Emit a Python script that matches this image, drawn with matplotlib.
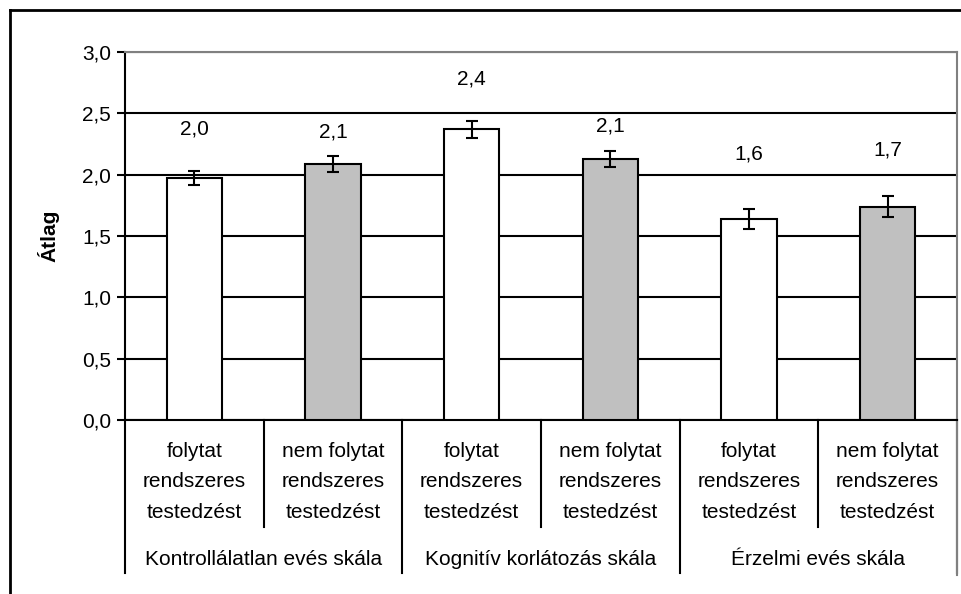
import matplotlib.pyplot as plt
from matplotlib.lines import Line2D
from matplotlib.ticker import FuncFormatter, MultipleLocator
import numpy as np

plt.rcParams['font.family'] = ['Liberation Sans', 'DejaVu Sans']

scales = ["Kontrollálatlan evés skála", "Kognitív korlátozás skála", "Érzelmi evés skála"]
groups = ["folytat\nrendszeres\ntestedzést", "nem folytat\nrendszeres\ntestedzést"]
means = [1.97, 2.09, 2.37, 2.13, 1.64, 1.74]
errors = [0.057, 0.066, 0.07, 0.064, 0.083, 0.083]
label_y = [2.37, 2.35, 2.78, 2.40, 2.17, 2.20]
colors = ["white", "#c0c0c0"] * 3

fs = 15
fig = plt.figure(figsize=(9.61, 5.94), dpi=100)
ax = fig.add_axes([125/961, 1 - 420/594, 832/961, 368/594])

x = np.arange(len(means))
ax.bar(x, means, width=0.4, color=colors, edgecolor="black", linewidth=1.5, zorder=3)
ax.errorbar(x, means, yerr=errors, fmt="none", ecolor="black", elinewidth=1.5,
            capsize=4.5, capthick=1.5, zorder=4)
for xi, m, ly in zip(x, means, label_y):
    ax.text(xi, ly, f"{m:.1f}".replace(".", ","), ha="center", va="center", fontsize=fs)

ax.set_xlim(-0.5, len(means) - 0.5)
ax.set_ylim(0, 3)
ax.yaxis.set_major_locator(MultipleLocator(0.5))
ax.yaxis.set_major_formatter(FuncFormatter(lambda v, p: f"{v:.1f}".replace(".", ",")))
ax.tick_params(axis="y", labelsize=fs, length=6, width=1.5, direction="out", pad=4)
ax.set_xticks([])
ax.grid(axis="y", color="black", linewidth=1.5, zorder=0)
ax.set_axisbelow(True)
ax.spines["left"].set_linewidth(1.5)
ax.spines["bottom"].set_linewidth(1.5)
ax.spines["top"].set_color("#808080")
ax.spines["top"].set_linewidth(1.5)
ax.spines["right"].set_color("#808080")
ax.spines["right"].set_linewidth(1.5)
ax.set_ylabel("Átlag", fontsize=fs, fontweight="bold", labelpad=16)

# category axis below the plot
tr = ax.get_xaxis_transform()
for i in range(len(means)):
    ax.text(i, -0.168, groups[i % 2], transform=tr, ha="center", va="center",
            fontsize=fs, linespacing=1.75, clip_on=False)
for j, s in enumerate(scales):
    ax.text(2 * j + 0.5, -0.378, s, transform=tr, ha="center", va="center",
            fontsize=fs, clip_on=False)
for k in range(len(means) + 1):
    y_end = -0.416 if k % 2 == 0 else -0.291
    ax.add_line(Line2D([k - 0.5, k - 0.5], [0, y_end], transform=tr, color="black",
                       linewidth=1.5, clip_on=False))
ax.add_line(Line2D([len(means) - 0.5] * 2, [0, -0.42], transform=tr, color="#808080",
                   linewidth=1.5, clip_on=False))

# outer chart frame
fig.add_artist(Line2D([10/961, 10/961], [0, 1 - 10/594], transform=fig.transFigure,
                      color="black", linewidth=2))
fig.add_artist(Line2D([10/961, 1], [1 - 10/594, 1 - 10/594], transform=fig.transFigure,
                      color="black", linewidth=2))

plt.savefig("out.png", dpi=100)
